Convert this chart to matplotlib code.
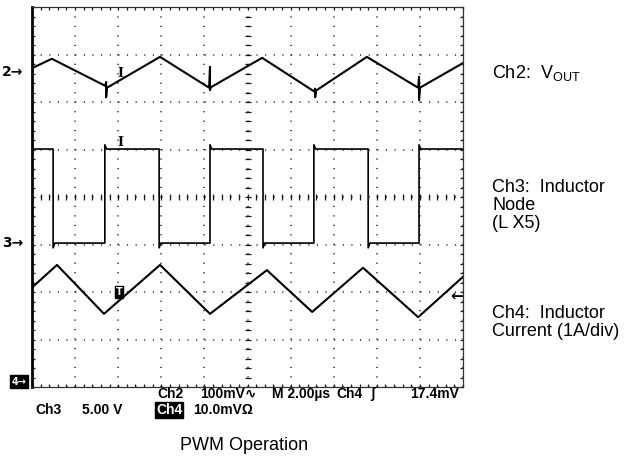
import numpy as np
import matplotlib.pyplot as plt

plt.rcParams['mathtext.fontset'] = 'custom'
plt.rcParams['mathtext.rm'] = 'Liberation Sans'

# --- trace data, in screen divisions (10 x 8 graticule, centre = 5, 0) ---
# Ch2: V_OUT ripple (AC coupled, 100 mV/div)
ch2_t = [0.02, 0.46, 1.70, 1.72, 1.72, 1.74, 2.97, 4.11, 4.13, 4.13, 4.15,
         5.34, 6.55, 6.57, 6.57, 6.59, 7.77, 8.96, 8.98, 8.98, 9.00, 10.0]
ch2_v = [2.72, 2.91, 2.34, 2.42, 2.10, 2.30, 2.95, 2.30, 2.74, 2.25, 2.31,
         2.93, 2.22, 2.28, 2.10, 2.24, 2.95, 2.30, 2.53, 2.04, 2.30, 2.82]

# Ch3: inductor switch node (5 V/div)
ch3_t = [0, 0.49, 0.49, 0.53, 1.69, 1.69, 1.73, 2.95, 2.95, 2.99, 4.13, 4.13, 4.17,
         5.36, 5.36, 5.40, 6.54, 6.54, 6.58, 7.80, 7.80, 7.84, 8.98, 8.98, 9.02, 10]
ch3_v = [1.01, 1.01, -1.07, -0.97, -0.97, 1.10, 1.01, 1.01, -1.07, -0.97, -0.97, 1.10, 1.01,
         1.01, -1.07, -0.97, -0.97, 1.10, 1.01, 1.01, -1.07, -0.97, -0.97, 1.10, 1.01, 1.01]

# Ch4: inductor current (1 A/div)
ch4_t = [0.02, 0.58, 1.67, 2.97, 4.13, 5.45, 6.50, 7.68, 8.96, 10.0]
ch4_v = [-1.89, -1.43, -2.46, -1.43, -2.46, -1.54, -2.42, -1.49, -2.53, -1.68]

# channel ground markers / trigger level
ch_labels = ['2', '3']
ch_ground = [2.63, -0.97]
ch4_ground = -3.89
ch4_trig = -2.08
trig_pos = 2.04

W, H = 636, 459
fig = plt.figure(figsize=(W / 100, H / 100), dpi=100)
ax = fig.add_axes([32 / W, 1 - 387 / H, 431 / W, 380 / H])

ax.plot(ch2_t, ch2_v, color='black', lw=1.5)
ax.plot(ch3_t, ch3_v, color='black', lw=1.2)
ax.plot(ch4_t, ch4_v, color='black', lw=1.5)

ax.set_xlim(0, 10)
ax.set_ylim(-4, 4)

# graticule
ax.set_xticks(np.arange(0, 11, 1))
ax.set_yticks(np.arange(-4, 5, 1))
ax.set_xticks(np.arange(0, 10.01, 0.2), minor=True)
ax.set_yticks(np.arange(-4, 4.01, 0.2), minor=True)
ax.tick_params(which='both', direction='in', top=True, right=True,
               labelbottom=False, labelleft=False, length=2.5, width=0.9, color='0.1')
ax.xaxis.grid(True, which='major', color='0.15', lw=1.1, linestyle=(0, (0.8, 5.4)))
ax.yaxis.grid(True, which='major', color='0.15', lw=1.1, linestyle=(0, (0.75, 4.9)))

# centre cross-hair ticks
ax.plot(np.full(41, 5.0), np.arange(-4, 4.01, 0.2), ls='none', marker='_', ms=5, mew=0.9, color='0.1')
ax.plot(np.arange(0, 10.01, 0.2), np.zeros(51), ls='none', marker='|', ms=5, mew=0.9, color='0.1')

ax.spines['left'].set_linewidth(2)
for s in ['top', 'right', 'bottom']:
    ax.spines[s].set_linewidth(0.9)
    ax.spines[s].set_color('0.2')

# ground markers on the left
for lab, g in zip(ch_labels, ch_ground):
    ax.text(-0.02, g, lab + '\u2192', transform=ax.get_yaxis_transform(), ha='right', va='center',
            fontsize=10, fontweight='bold', family='DejaVu Sans')
ax.text(-0.012, ch4_ground, '4\u2192', transform=ax.get_yaxis_transform(), ha='right', va='center',
        fontsize=7, fontweight='bold', color='white',
        bbox=dict(boxstyle='square,pad=0.15', fc='black', ec='black'))

# trigger-position marks on traces
ax.text(trig_pos, 2.61, 'I', ha='center', va='center', fontsize=9, fontweight='bold', family='DejaVu Serif')
ax.text(trig_pos, 1.14, 'I', ha='center', va='center', fontsize=9, fontweight='bold', family='DejaVu Serif')
ax.text(trig_pos - 0.02, -2.0, 'T', ha='center', va='center', fontsize=7, fontweight='bold',
        color='white', bbox=dict(boxstyle='square,pad=0.1', fc='black', ec='black'))
ax.text(1.0, ch4_trig, '\u2190', transform=ax.get_yaxis_transform(), ha='right', va='center',
        fontsize=11, fontweight='bold')

# scope readout
ro = dict(fontsize=10, fontweight='bold', family=['Liberation Sans', 'DejaVu Sans'], va='center')
row1 = [('Ch2', 157), ('100mV\u223f', 200), ('M 2.00\u00b5s', 272), ('Ch4', 336), ('\u0283', 370)]
for s, x in row1:
    fig.text(x / W, 1 - 394 / H, s, **ro)
fig.text(459 / W, 1 - 394 / H, '17.4mV', ha='right', **ro)
row2 = [('Ch3', 35), ('5.00 V', 82), ('10.0mV\u03a9', 193)]
for s, x in row2:
    fig.text(x / W, 1 - 410 / H, s, **ro)
fig.text(156 / W, 1 - 410 / H, 'Ch4', color='white',
         bbox=dict(boxstyle='square,pad=0.05', fc='black', ec='black'), **ro)

# channel descriptions
lab = dict(fontsize=13, family='Liberation Sans', va='center', ha='left')
fig.text(492 / W, 1 - 73 / H, 'Ch2:  V$_{\\mathrm{OUT}}$', **lab)
fig.text(492 / W, 1 - 187 / H, 'Ch3:  Inductor', **lab)
fig.text(492 / W, 1 - 205 / H, 'Node', **lab)
fig.text(492 / W, 1 - 224 / H, '(L X5)', **lab)
fig.text(492 / W, 1 - 313 / H, 'Ch4:  Inductor', **lab)
fig.text(492 / W, 1 - 331 / H, 'Current (1A/div)', **lab)

fig.text(244 / W, 1 - 446 / H, 'PWM Operation', ha='center', va='center', fontsize=13, family='Liberation Sans')

fig.savefig('out.png', dpi=100, facecolor='white')
